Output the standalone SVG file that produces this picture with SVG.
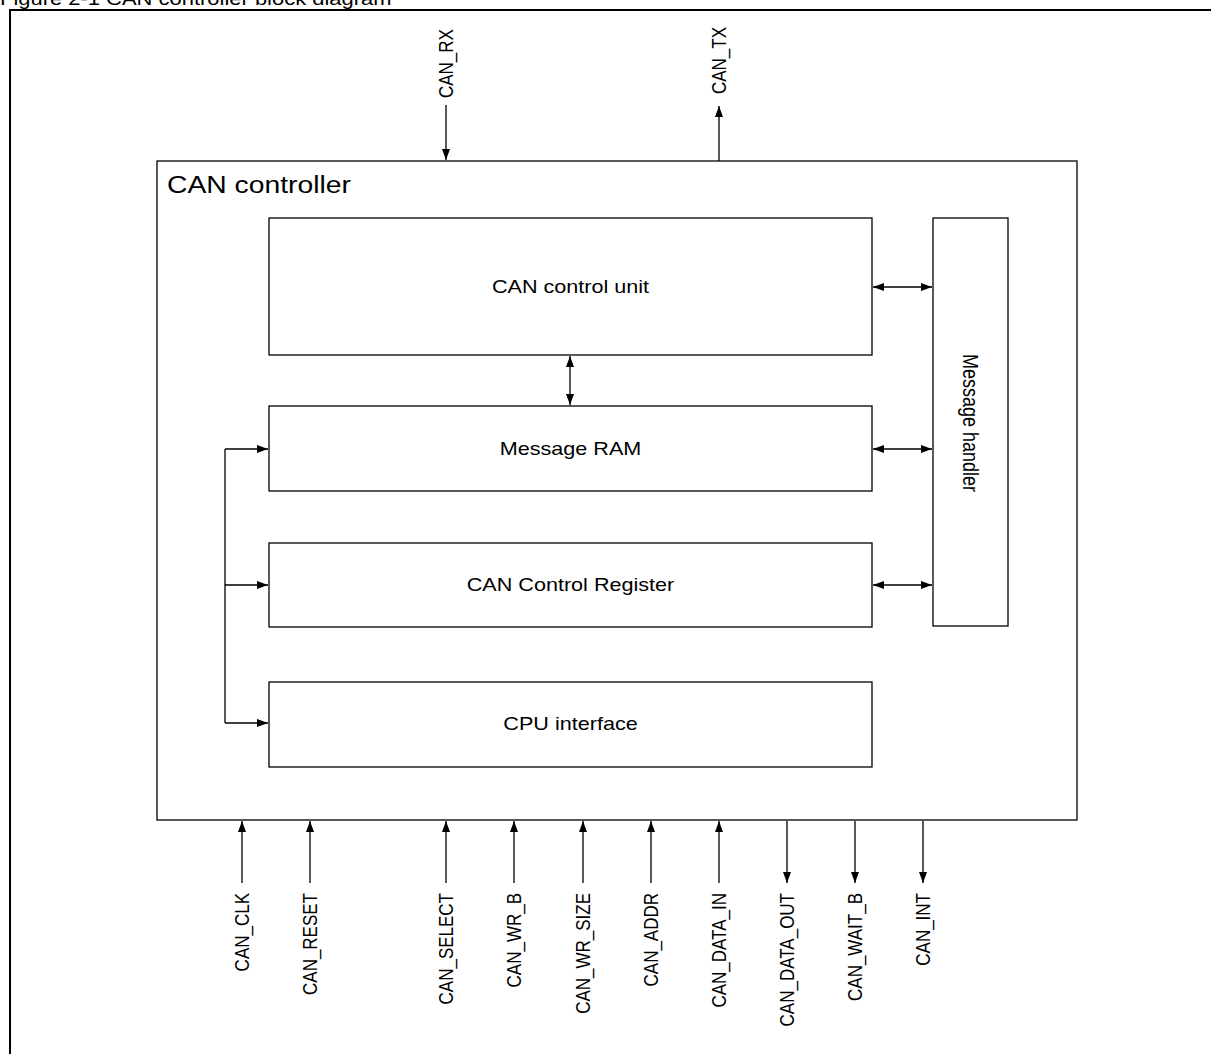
<svg xmlns="http://www.w3.org/2000/svg" width="1211" height="1054" viewBox="0 0 1211 1054">
<style>
.box{fill:#fff;stroke:#000;stroke-width:1.3}
.frame{fill:none;stroke:#000;stroke-width:2}
.ln{fill:none;stroke:#000;stroke-width:1.3}
.t{font-family:"Liberation Sans",Arial,sans-serif;fill:#000}
.lab{font-size:18px;text-anchor:middle}
.sig{font-size:17px}
</style>
<defs>
<marker id="ah" viewBox="0 0 11 8" markerWidth="11" markerHeight="8" refX="11" refY="4" orient="auto-start-reverse" markerUnits="userSpaceOnUse">
<path d="M0,0 L11,4 L0,8 z" fill="#000"/>
</marker>
</defs>
<rect width="1211" height="1054" fill="#fff"/>
<text class="t" font-size="18" transform="translate(0,5) scale(1.22,1)">Figure 2-1 CAN controller block diagram</text>
<rect class="frame" x="10" y="10" width="1260" height="1100"/>

<g id="can_controller">
<rect class="box" x="157" y="161" width="920" height="659"/>
<text class="t" font-size="23" transform="translate(167,193) scale(1.23,1)">CAN controller</text>
</g>
<g id="can_control_unit">
<rect class="box" x="269" y="218" width="603" height="137"/>
<text class="t lab" transform="translate(570.5,293) scale(1.2,1)">CAN control unit</text>
</g>
<g id="message_ram">
<rect class="box" x="269" y="406" width="603" height="85"/>
<text class="t lab" transform="translate(570.5,455) scale(1.2,1)">Message RAM</text>
</g>
<g id="can_control_register">
<rect class="box" x="269" y="543" width="603" height="84"/>
<text class="t lab" transform="translate(570.5,591) scale(1.2,1)">CAN Control Register</text>
</g>
<g id="cpu_interface">
<rect class="box" x="269" y="682" width="603" height="85"/>
<text class="t lab" transform="translate(570.5,730) scale(1.2,1)">CPU interface</text>
</g>
<g id="message_handler">
<rect class="box" x="933" y="218" width="75" height="408"/>
<text class="t lab" transform="translate(963,423) scale(1.2,1) rotate(90)">Message handler</text>
</g>

<g id="connectors">
<line class="ln" x1="873" y1="287" x2="932" y2="287" marker-start="url(#ah)" marker-end="url(#ah)"/>
<line class="ln" x1="873" y1="449" x2="932" y2="449" marker-start="url(#ah)" marker-end="url(#ah)"/>
<line class="ln" x1="873" y1="585" x2="932" y2="585" marker-start="url(#ah)" marker-end="url(#ah)"/>
<line class="ln" x1="570" y1="356" x2="570" y2="405" marker-start="url(#ah)" marker-end="url(#ah)"/>
<line class="ln" x1="225" y1="449" x2="225" y2="723"/>
<line class="ln" x1="225" y1="449" x2="268" y2="449" marker-end="url(#ah)"/>
<line class="ln" x1="225" y1="585" x2="268" y2="585" marker-end="url(#ah)"/>
<line class="ln" x1="225" y1="723" x2="268" y2="723" marker-end="url(#ah)"/>
<line class="ln" x1="446" y1="105" x2="446" y2="160" marker-end="url(#ah)"/>
<line class="ln" x1="719" y1="161" x2="719" y2="106" marker-end="url(#ah)"/>
<line class="ln" x1="242" y1="883" x2="242" y2="821" marker-end="url(#ah)"/>
<line class="ln" x1="310" y1="883" x2="310" y2="821" marker-end="url(#ah)"/>
<line class="ln" x1="446" y1="883" x2="446" y2="821" marker-end="url(#ah)"/>
<line class="ln" x1="514" y1="883" x2="514" y2="821" marker-end="url(#ah)"/>
<line class="ln" x1="583" y1="883" x2="583" y2="821" marker-end="url(#ah)"/>
<line class="ln" x1="651" y1="883" x2="651" y2="821" marker-end="url(#ah)"/>
<line class="ln" x1="719" y1="883" x2="719" y2="821" marker-end="url(#ah)"/>
<line class="ln" x1="787" y1="821" x2="787" y2="883" marker-end="url(#ah)"/>
<line class="ln" x1="855" y1="821" x2="855" y2="883" marker-end="url(#ah)"/>
<line class="ln" x1="923" y1="821" x2="923" y2="883" marker-end="url(#ah)"/>
</g>

<g id="signal_labels">
<text class="t sig" transform="translate(453,98) scale(1.22,1) rotate(-90)">CAN_RX</text>
<text class="t sig" transform="translate(726,94) scale(1.22,1) rotate(-90)">CAN_TX</text>
<text class="t sig" text-anchor="end" transform="translate(249,893) scale(1.22,1) rotate(-90)">CAN_CLK</text>
<text class="t sig" text-anchor="end" transform="translate(317,893) scale(1.22,1) rotate(-90)">CAN_RESET</text>
<text class="t sig" text-anchor="end" transform="translate(453,893) scale(1.22,1) rotate(-90)">CAN_SELECT</text>
<text class="t sig" text-anchor="end" transform="translate(521,893) scale(1.22,1) rotate(-90)">CAN_WR_B</text>
<text class="t sig" text-anchor="end" transform="translate(590,893) scale(1.22,1) rotate(-90)">CAN_WR_SIZE</text>
<text class="t sig" text-anchor="end" transform="translate(658,893) scale(1.22,1) rotate(-90)">CAN_ADDR</text>
<text class="t sig" text-anchor="end" transform="translate(726,893) scale(1.22,1) rotate(-90)">CAN_DATA_IN</text>
<text class="t sig" text-anchor="end" transform="translate(794,893) scale(1.22,1) rotate(-90)">CAN_DATA_OUT</text>
<text class="t sig" text-anchor="end" transform="translate(862,893) scale(1.22,1) rotate(-90)">CAN_WAIT_B</text>
<text class="t sig" text-anchor="end" transform="translate(930,893) scale(1.22,1) rotate(-90)">CAN_INT</text>
</g>
</svg>
